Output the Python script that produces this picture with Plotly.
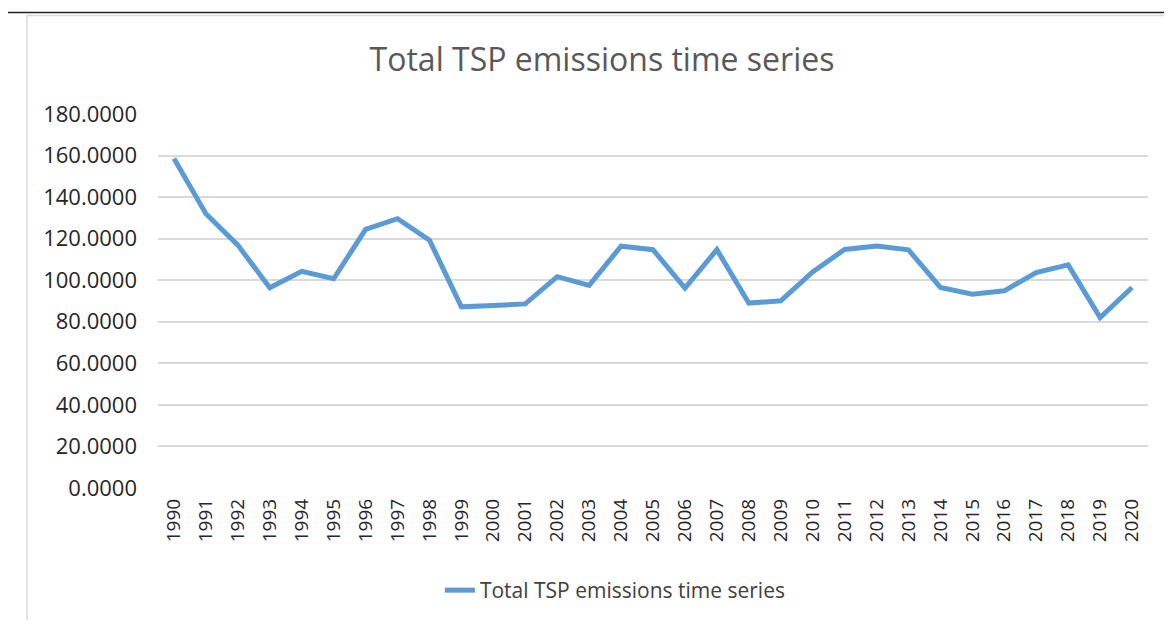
import plotly.graph_objects as go

# -----------------------
# Data
# -----------------------

years = [str(y) for y in range(1990, 2021)]

tsp_emissions = [
    158.6, 132.0, 116.9, 96.4, 104.3, 100.7, 124.5, 129.6, 119.3, 87.2,
    87.8, 88.6, 101.7, 97.5, 116.4, 114.7, 96.2, 114.7, 89.0, 90.1,
    104.0, 114.8, 116.5, 114.6, 96.5, 93.3, 94.9, 103.7, 107.4, 82.0,
    96.5,
]

y_ticks = [0, 20, 40, 60, 80, 100, 120, 140, 160, 180]
y_tick_labels = ["{:.4f}".format(v) for v in y_ticks]

series_name = "Total TSP emissions time series"
FONT = "Open Sans"

# page body adds an 8px margin, so the figure is a bit smaller than the window
W, H = 1164, 615

# -----------------------
# Figure
# -----------------------

fig = go.Figure()

fig.add_trace(go.Scatter(
    x=years,
    y=tsp_emissions,
    mode="lines",
    name=series_name,
    line=dict(color="#5b9bd5", width=5),
))

fig.update_layout(
    width=W,
    height=H,
    margin=dict(l=150, r=24, t=106, b=133),
    paper_bgcolor="white",
    plot_bgcolor="white",
    font=dict(family=FONT, color="#404040"),
    title=dict(
        text="Total TSP emissions time series",
        x=0.4485, xref="paper", xanchor="center",
        y=1 - 52 / H, yref="container", yanchor="middle",
        font=dict(family=FONT, size=32, color="#595959"),
    ),
    showlegend=True,
    legend=dict(
        orientation="h",
        x=0.462, xanchor="center",
        y=-0.274, yanchor="middle",
        font=dict(family=FONT, size=21, color="#404040"),
    ),
)

fig.update_xaxes(
    type="category",
    range=[-0.5, len(years) - 0.5],
    tickangle=-90,
    tickfont=dict(family=FONT, size=19, color="#262626"),
    showgrid=False,
    showline=False,
    ticks="",
    ticklabelstandoff=6,
)

fig.update_yaxes(
    range=[0, 180],
    tickvals=y_ticks,
    ticktext=y_tick_labels,
    tickfont=dict(family=FONT, size=22, color="#262626"),
    showgrid=True,
    gridcolor="#d9d9d9",
    gridwidth=1.5,
    zeroline=False,
    showline=False,
    ticks="",
    ticklabelstandoff=20,
)

# frame around the chart area (top rule and left border)
fig.add_shape(
    type="line", xref="paper", yref="paper",
    x0=(3 - 158) / 990, x1=(1172 - 158) / 990,
    y0=(490 - 12) / 376, y1=(490 - 12) / 376,
    line=dict(color="#222222", width=1.5),
)
fig.add_shape(
    type="line", xref="paper", yref="paper",
    x0=(27 - 158) / 990, x1=(27 - 158) / 990,
    y0=(490 - 15) / 376, y1=(490 - 623) / 376,
    line=dict(color="#d9d9d9", width=1.5),
)
fig.add_shape(
    type="line", xref="paper", yref="paper",
    x0=(27 - 158) / 990, x1=(1172 - 158) / 990,
    y0=(490 - 15) / 376, y1=(490 - 15) / 376,
    line=dict(color="#d9d9d9", width=1.5),
)

fig.write_html("out.html")
